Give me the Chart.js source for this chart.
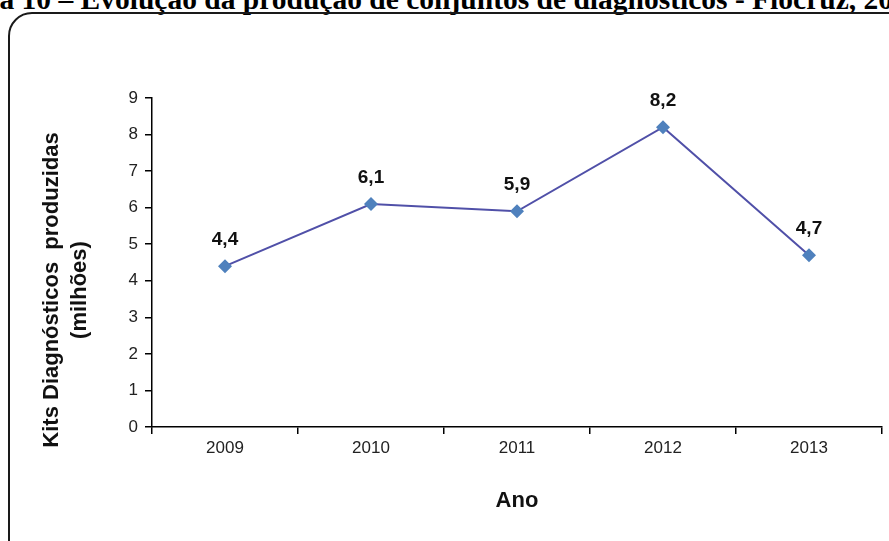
<!DOCTYPE html>
<html>
<head>
<meta charset="utf-8">
<script src="https://cdn.jsdelivr.net/npm/chart.js@4"></script>
<style>
  html, body { margin: 0; padding: 0; background: #fff; overflow: hidden; }
  #wrap { position: relative; width: 889px; height: 541px; overflow: hidden; }
  #titulo {
    position: absolute; left: -71px; top: -15px; white-space: nowrap;
    font: bold 29.5px "Liberation Serif", "Times New Roman", serif; line-height: 29.5px; color: #000;
  }
  #moldura {
    position: absolute; left: 8px; top: 12px; width: 910px; height: 560px;
    border: 2px solid #1a1a1a; border-radius: 24px; box-sizing: border-box;
  }
  canvas { position: absolute; left: 0; top: 0; }
</style>
</head>
<body>
<div id="wrap">
  <div id="titulo">Figura 10 – Evolução da produção de conjuntos de diagnósticos - Fiocruz, 2009-2013</div>
  <div id="moldura"></div>
  <canvas id="kitsChart" width="889" height="541"></canvas>
</div>
<script>
// ===================
// Dados
// ===================
const anos = ["2009", "2010", "2011", "2012", "2013"];
const kitsProduzidos = [4.4, 6.1, 5.9, 8.2, 4.7]; // milhões
const rotulos = ["4,4", "6,1", "5,9", "8,2", "4,7"];
const tituloY = ["Kits Diagnósticos  produzidas", "(milhões)"];
const tituloX = "Ano";

const fonte = '"Liberation Sans", Arial, sans-serif';

// Rótulos de dados acima de cada ponto
const rotulosPlugin = {
  id: "rotulos",
  afterDatasetsDraw(chart) {
    const ctx = chart.ctx;
    const meta = chart.getDatasetMeta(0);
    ctx.save();
    ctx.font = "bold 19px " + fonte;
    ctx.fillStyle = "#111";
    ctx.textAlign = "center";
    ctx.textBaseline = "bottom";
    meta.data.forEach((p, i) => {
      ctx.fillText(rotulos[i], p.x, p.y - 17);
    });
    ctx.restore();
  },
};

// Título do eixo Y (duas linhas, girado)
const tituloYPlugin = {
  id: "tituloY",
  afterDraw(chart) {
    const ctx = chart.ctx;
    ctx.save();
    ctx.font = "bold 22px " + fonte;
    ctx.fillStyle = "#111";
    ctx.textAlign = "center";
    ctx.textBaseline = "middle";
    ctx.translate(52, 290);
    ctx.rotate(-Math.PI / 2);
    tituloY.forEach((linha, i) => {
      ctx.fillText(linha, 0, i * 28);
    });
    ctx.restore();
  },
};

new Chart(document.getElementById("kitsChart"), {
  type: "line",
  data: {
    labels: anos,
    datasets: [
      {
        data: kitsProduzidos,
        borderColor: "#5050A8",
        borderWidth: 2,
        tension: 0,
        pointStyle: "rectRot",
        pointRadius: 7,
        pointBorderWidth: 0,
        pointBackgroundColor: "#4F81BD",
        pointBorderColor: "#4F81BD",
      },
    ],
  },
  options: {
    responsive: false,
    animation: false,
    layout: { padding: { left: 0, right: 2, top: 98, bottom: 0 } },
    plugins: { legend: { display: false }, tooltip: { enabled: false } },
    scales: {
      x: {
        offset: true,
        grid: { offset: true, drawOnChartArea: false, drawTicks: true, tickLength: 7, color: "#000", lineWidth: 1.5 },
        border: { display: true, color: "#000", width: 1.5 },
        ticks: { color: "#222", font: { family: fonte, size: 17 }, padding: 4, maxRotation: 0 },
        title: {
          display: true, text: tituloX, color: "#111",
          font: { family: fonte, size: 22, weight: "bold" },
          padding: { top: 0, bottom: 27 },
        },
        afterFit(scale) { scale.height = 114; },
      },
      y: {
        min: 0,
        max: 9,
        grid: { drawOnChartArea: false, drawTicks: true, tickLength: 7, color: "#000", lineWidth: 1.5 },
        border: { display: true, color: "#000", width: 1.5 },
        ticks: { stepSize: 1, color: "#222", font: { family: fonte, size: 17 }, padding: 7 },
        afterFit(scale) { scale.width = 152; },
      },
    },
  },
  plugins: [rotulosPlugin, tituloYPlugin],
});
</script>
</body>
</html>
